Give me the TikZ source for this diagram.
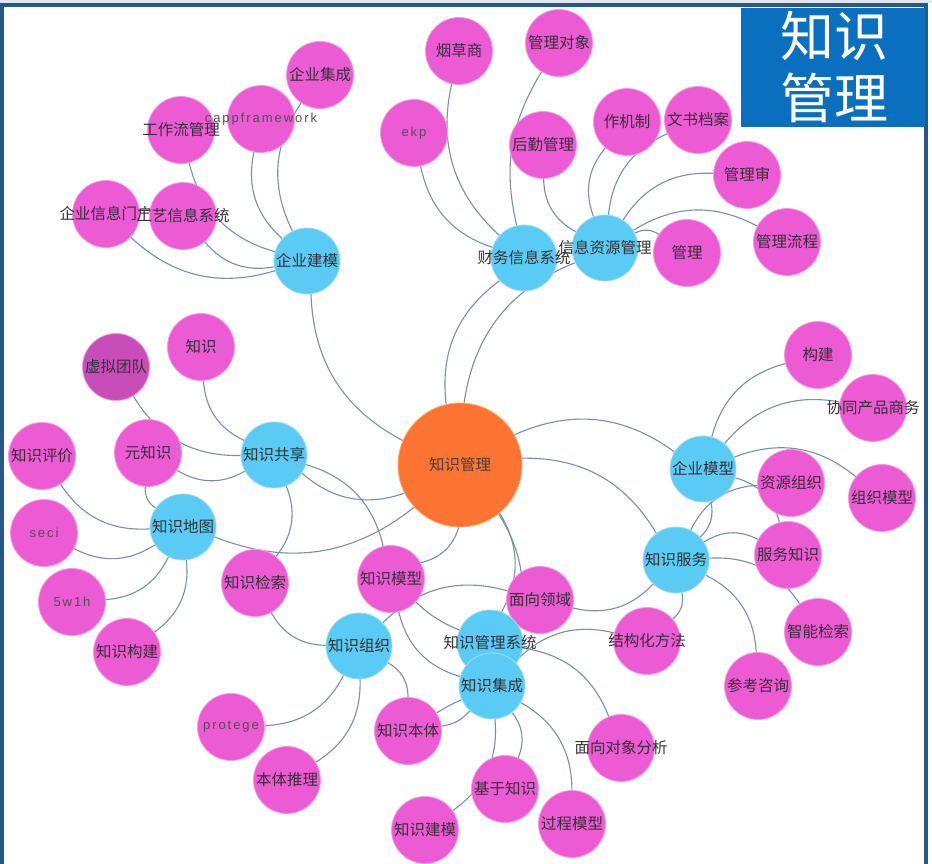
\documentclass[tikz,border=0pt]{standalone}
\usepackage{fontspec}
\newfontfamily\cjk{Noto Sans CJK SC}
\newfontfamily\latf[LetterSpace=15]{Liberation Sans}
\usetikzlibrary{backgrounds}
\definecolor{pinkc}{HTML}{EC5AD4}
\definecolor{pinkd}{HTML}{C94DB8}
\definecolor{pinkb}{HTML}{F49AE3}
\definecolor{bluec}{HTML}{5ACBF4}
\definecolor{blueb}{HTML}{9EDFE8}
\definecolor{orangec}{HTML}{FD7432}
\definecolor{orangeb}{HTML}{FDB070}
\definecolor{edgec}{HTML}{7891A2}
\definecolor{txt}{HTML}{353035}
\definecolor{titleblue}{HTML}{0A6FBE}
\definecolor{frameblue}{HTML}{26598A}
\definecolor{framegray}{HTML}{E4E8EC}
\begin{document}
\begin{tikzpicture}[x=1pt,y=-1pt,
  pnode/.style={circle,fill=pinkc,draw=pinkb,line width=0.8pt,minimum size=67pt,inner sep=0pt},
  bnode/.style={circle,fill=bluec,draw=blueb,line width=0.8pt,minimum size=66pt,inner sep=0pt},
  cnode/.style={circle,fill=orangec,draw=orangeb,line width=0.8pt,minimum size=124pt,inner sep=0pt},
  lab/.style={font=\cjk\fontsize{15.5}{16}\selectfont,text=txt,inner sep=0pt},
  llab/.style={font=\latf\fontsize{13}{14}\selectfont,text=txt!85,inner sep=0pt},
  edge/.style={draw=edgec,line width=1.1pt},
  bl/.style={bend left=#1},
  bl/.default=30,
  titletext/.style={font=\cjk\fontsize{54}{56}\selectfont,text=white,inner sep=0pt}
]
\useasboundingbox (0,0) rectangle (932,864);

% central
\node[cnode,label={[lab,text=black!75]center:知识管理}] (km) at (460,465) {};

% blue nodes
\node[bnode,label={[lab]center:企业建模}] (qyjm) at (307,261) {};
\node[bnode,label={[lab]center:知识共享}] (zsgx) at (274,455) {};
\node[bnode,label={[lab]center:知识地图}] (zsdt) at (183,527) {};
\node[bnode,label={[lab]center:企业模型}] (qymx) at (703,469) {};
\node[bnode,label={[lab]center:知识服务}] (zsfw) at (676,560) {};
\node[bnode,label={[lab]center:知识组织}] (zszz) at (359,646) {};

% pink nodes (top-left group)
\node[pnode,label={[lab]center:企业集成}] (qyjc) at (320,75) {};
\node[pnode,label={[lab]center:工作流管理}] (gzl) at (181,130) {};
\node[pnode,label={[llab]center:cappframework}] (capp) at (261,119) {};
\node[pnode,label={[lab]center:企业信息门户}] (qymh) at (106,214) {};
\node[pnode,label={[lab]center:工艺信息系统}] (gyxt) at (183,216) {};

% top group
\node[pnode,label={[llab]center:ekp}] (ekp) at (414,133) {};
\node[pnode,label={[lab]center:烟草商}] (ycs) at (459,51) {};
\node[pnode,label={[lab]center:管理对象}] (gldx) at (559,43) {};
\node[pnode,label={[lab]center:后勤管理}] (hqgl) at (543,145) {};
\node[pnode,label={[lab]center:作机制}] (zjz) at (627,122) {};
\node[pnode,label={[lab]center:文书档案}] (wsda) at (698,120) {};
\node[pnode,label={[lab]center:管理审}] (gls) at (747,175) {};
\node[pnode,label={[lab]center:管理流程}] (gllc) at (787,242) {};
\node[bnode,label={[lab]center:财务信息系统}] (cwxt) at (524,258) {};
\node[bnode,label={[lab]center:信息资源管理}] (xxzy) at (605,248) {};
\node[pnode,label={[lab]center:管理}] (gl) at (687,253) {};

% left group
\node[pnode,label={[lab]center:知识}] (zs) at (201,347) {};
\node[pnode,fill=pinkd,label={[lab]center:虚拟团队}] (xntd) at (116,367) {};
\node[pnode,label={[lab]center:知识评价}] (zspj) at (42,456) {};
\node[pnode,label={[lab]center:元知识}] (yzs) at (148,453) {};
\node[pnode,label={[llab]center:seci}] (seci) at (44,533) {};
\node[pnode,label={[llab]center:5w1h}] (wwyh) at (72,602) {};
\node[pnode,label={[lab]center:知识构建}] (zsgj) at (127,652) {};
\node[pnode,label={[lab]center:知识检索}] (zsjs) at (255,583) {};
\node[pnode,label={[lab]center:知识模型}] (zsmx) at (391,579) {};

% right group
\node[pnode,label={[lab]center:构建}] (gj) at (818,355) {};
\node[pnode,label={[lab]center:协同产品商务}] (xtcp) at (873,408) {};
\node[pnode,label={[lab]center:资源组织}] (zyzz) at (791,483) {};
\node[pnode,label={[lab]center:组织模型}] (zzmx) at (882,498) {};
\node[pnode,label={[lab]center:服务知识}] (fwzs) at (788,555) {};
\node[pnode,label={[lab]center:智能检索}] (znjs) at (818,632) {};
\node[pnode,label={[lab]center:参考咨询}] (ckzx) at (758,686) {};

% bottom group
\node[pnode,label={[lab]center:面向领域}] (mxly) at (540,600) {};
\node[pnode,label={[lab]center:结构化方法}] (jghf) at (647,641) {};
\node[pnode,label={[lab]center:面向对象分析}] (mxdx) at (621,748) {};
\node[pnode,label={[llab]center:protege}] (prot) at (231,727) {};
\node[pnode,label={[lab]center:本体推理}] (btl) at (287,780) {};
\node[pnode,label={[lab]center:知识本体}] (zsbt) at (408,731) {};
\node[pnode,label={[lab]center:基于知识}] (jyzs) at (505,789) {};
\node[pnode,label={[lab]center:知识建模}] (zsjm) at (425,830) {};
\node[pnode,label={[lab]center:过程模型}] (gcmx) at (572,824) {};
\node[bnode,label={[lab]center:知识管理系统}] (zsxt) at (490,643) {};
\node[bnode,label={[lab]center:知识集成}] (zsjc) at (492,686) {};

% title
\fill[titleblue] (741,8) rectangle (925,127);
\node[titletext] (t1) at (834,36) {知识};
\node[titletext] (t2) at (834,98) {管理};

% edges and background
\begin{scope}[on background layer]
\fill[white] (0,0) rectangle (932,864);
\fill[framegray] (0,0) rectangle (932,3);
\fill[frameblue] (0,3) rectangle (928,7);
\fill[frameblue] (0,3) rectangle (4,864);
\fill[frameblue] (924,3) rectangle (928,864);
\foreach \b in {qyjm,cwxt,xxzy,zsgx,zsdt,zsmx,zsxt,zsjc,qymx,zsfw}
  \draw[edge] (km) to[bl] (\b);
\foreach \b in {qyjc,capp,gzl,gyxt,qymh}
  \draw[edge] (qyjm) to[bl] (\b);
\foreach \b in {ekp,ycs}
  \draw[edge] (cwxt) to[bl] (\b);
\draw[edge] (cwxt) to[bl=22] (gldx);
\foreach \b in {hqgl,zjz,wsda,gls,gllc,gl}
  \draw[edge] (xxzy) to[bl] (\b);
\foreach \b in {zs,xntd,yzs,zsjs,zsmx}
  \draw[edge] (zsgx) to[bl] (\b);
\foreach \b in {zspj,yzs,seci,wwyh,zsgj}
  \draw[edge] (zsdt) to[bl] (\b);
\foreach \b in {zsjs,prot,btl,zsbt,mxly}
  \draw[edge] (zszz) to[bl] (\b);
\foreach \b in {mxly,zyzz,fwzs,znjs,ckzx,jghf}
  \draw[edge] (zsfw) to[bl] (\b);
\foreach \b in {gj,xtcp,zzmx,zsfw,fwzs}
  \draw[edge] (qymx) to[bl] (\b);
\foreach \b in {jyzs,zsjm,gcmx,jghf,zsmx}
  \draw[edge] (zsjc) to[bl] (\b);
\draw[edge] (zsjc) to[bl=20] (zsbt);
\draw[edge] (zsbt) to[bl=4] (zsjc);
\draw[edge] (zsxt) to[bl=10] (zsmx);
\draw[edge] (zsxt) to[bl] (mxdx);
\end{scope}
\end{tikzpicture}
\end{document}
